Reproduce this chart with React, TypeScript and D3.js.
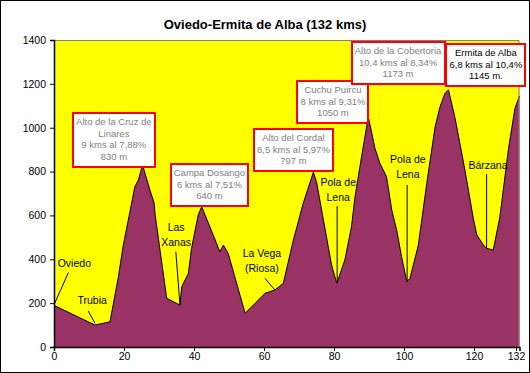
import React, { useEffect, useRef } from "react";
import * as d3 from "d3";

// profile: distance (km) and altitude (m)
const kms = [
  0, 11.7, 16, 18.4, 19.8, 21.7, 23.1, 24.1, 25.3, 27.4, 28.6, 28.9, 32.2, 36, 36.5, 38.4, 39.3,
  41.2, 42.2, 45.5, 47.4, 48.4, 49.8, 54.6, 58.9, 60.3, 63.1, 65.5, 68.4, 71.2, 74.1, 75,
  79.3, 80.8, 83.1, 85, 86, 87.4, 89.8, 91.7, 93.1, 95, 96.5, 97.9, 99.3, 100.8, 101.7,
  104.1, 106.5, 108.9, 110.3, 111.7, 112.7, 114.6, 117.4, 119.8, 120.8, 122.7, 123.6,
  125.5, 127.4, 129.8, 131.7, 133,
];
const elevations = [
  190, 100, 115, 320, 465, 617, 731, 761, 830, 716, 657, 602, 222, 191, 275, 336, 450,
  602, 640, 510, 434, 465, 425, 154, 222, 245, 260, 290, 488, 655, 797, 754,
  374, 290, 397, 549, 685, 822, 1050, 906, 838, 777, 625, 534, 412, 298, 313,
  465, 746, 1005, 1096, 1157, 1173, 1043, 807, 587, 511, 465, 450,
  442, 594, 898, 1088, 1145,
];

const xTicks = [0, 20, 40, 60, 80, 100, 120, 132];
const yTicks = [0, 200, 400, 600, 800, 1000, 1200, 1400];

const title = "Oviedo-Ermita de Alba (132 kms)";

// towns: text anchor (km, m) and leader line (km, m) -> (km, m)
const towns = [
  { lines: ["Oviedo"], km: 1.06, elev: 365, anchor: "start", line: [[0.2, 199], [4.1, 339]] },
  { lines: ["Trubia"], km: 6.7, elev: 196, anchor: "start", line: [[9.8, 164], [11.7, 108]] },
  { lines: ["Las", "Xanas"], km: 34.9, elev: 529, anchor: "middle", line: [[34.8, 435], [36, 191]] },
  { lines: ["La Vega", "(Riosa)"], km: 59.4, elev: 410, anchor: "middle", line: [[60.3, 313], [63.1, 260]] },
  { lines: ["Pola de", "Lena"], km: 81.2, elev: 736, anchor: "middle", line: [[80.9, 643], [80.9, 293]] },
  { lines: ["Pola de", "Lena"], km: 101.1, elev: 839, anchor: "middle", line: [[100.9, 739], [100.9, 298]] },
  { lines: ["Bárzana"], km: 124, elev: 812, anchor: "middle", line: [[123.6, 789], [123.6, 450]] },
];

// climbs: box centred on km, top edge at elev
const climbs = [
  { lines: ["Alto de la Cruz de", "Linares", "9 kms al 7,88%", "830 m"], km: 17.1, elev: 1065, color: "#808080" },
  { lines: ["Campa Dosango", "6 kms al 7,51%", "640 m"], km: 44.4, elev: 833, color: "#808080" },
  { lines: ["Alto del Cordal", "8,5 kms al 5,97%", "797 m"], km: 68.4, elev: 993, color: "#808080" },
  { lines: ["Cuchu Puircu", "8 kms al 9,31%", "1050 m"], km: 79.7, elev: 1213, color: "#808080" },
  { lines: ["Alto de la Cobertoria", "10,4 kms al 8,34%", "1173 m"], km: 98.3, elev: 1389, color: "#808080" },
  { lines: ["Ermita de Alba", "6,8 kms al 10,4%", "1145 m."], km: 123.4, elev: 1380, color: "#000000" },
];

const FONT = "'Liberation Sans', Arial, sans-serif";

const App = () => {
  const svgRef = useRef<SVGSVGElement>(null);

  useEffect(() => {
    const width = 530;
    const height = 373;
    const svg = d3.select(svgRef.current);
    svg.selectAll("*").remove();

    const x = d3.scaleLinear().domain([0, 133]).range([54, 519.5]);
    const y = d3.scaleLinear().domain([0, 1400]).range([347, 40]);

    // outer frame
    svg.append("rect")
      .attr("x", 0.5).attr("y", 0.5)
      .attr("width", width - 1).attr("height", height - 1)
      .attr("fill", "#fff").attr("stroke", "#000");

    // title
    svg.append("text")
      .attr("x", 265).attr("y", 28.5)
      .attr("text-anchor", "middle")
      .style("font-family", FONT).style("font-size", "13px").style("font-weight", "bold")
      .text(title);

    // plot area
    svg.append("rect")
      .attr("x", x(0)).attr("y", y(1400))
      .attr("width", x(133) - x(0)).attr("height", y(0) - y(1400))
      .attr("fill", "#ffff00");

    const pts = kms.map((k, i) => [k, elevations[i]] as [number, number]);

    svg.append("path")
      .datum(pts)
      .attr("fill", "#993366")
      .attr("d", d3.area<[number, number]>().x((d) => x(d[0])).y0(y(0)).y1((d) => y(d[1])));

    svg.append("path")
      .datum(pts)
      .attr("fill", "none").attr("stroke", "#000").attr("stroke-width", 1)
      .attr("d", d3.line<[number, number]>().x((d) => x(d[0])).y((d) => y(d[1])));

    // grey top / right border of plot
    svg.append("path")
      .attr("d", `M${x(0)},${y(1400) + 0.5}H${x(133) - 0.5}V${y(0)}`)
      .attr("fill", "none").attr("stroke", "#808080");

    // axes
    const yAxis = svg.append("g")
      .attr("transform", `translate(${x(0)},0)`)
      .call(d3.axisLeft(y).tickValues(yTicks).tickSize(4).tickPadding(4).tickFormat(d3.format("d")));
    const xAxis = svg.append("g")
      .attr("transform", `translate(0,${y(0)})`)
      .call(d3.axisBottom(x).tickValues(xTicks).tickSize(4).tickPadding(2).tickFormat(d3.format("d")));
    [yAxis, xAxis].forEach((g) => {
      g.select(".domain").attr("stroke", "#000").attr("stroke-width", 1.5);
      g.selectAll(".tick line").attr("stroke", "#000");
      g.selectAll("text").style("font-family", FONT).style("font-size", "10.5px").attr("fill", "#000");
    });

    // town labels with leader lines
    towns.forEach((t) => {
      svg.append("line")
        .attr("x1", x(t.line[0][0])).attr("y1", y(t.line[0][1]))
        .attr("x2", x(t.line[1][0])).attr("y2", y(t.line[1][1]))
        .attr("stroke", "#000");
      const txt = svg.append("text")
        .attr("text-anchor", t.anchor)
        .style("font-family", FONT).style("font-size", "10.5px");
      t.lines.forEach((l, i) => {
        txt.append("tspan").attr("x", x(t.km)).attr("y", y(t.elev) + i * 15).text(l);
      });
    });

    // climb boxes
    climbs.forEach((c) => {
      const g = svg.append("g");
      const rect = g.append("rect");
      const top = Math.round(y(c.elev));
      const txt = g.append("text")
        .attr("text-anchor", "middle")
        .attr("fill", c.color)
        .style("font-family", FONT).style("font-size", "9.5px");
      c.lines.forEach((l, i) => {
        txt.append("tspan").attr("x", x(c.km)).attr("y", top + 12 + i * 11.7).text(l);
      });
      let w = 0;
      txt.selectAll<SVGTSpanElement, unknown>("tspan").each(function () {
        w = Math.max(w, this.getComputedTextLength());
      });
      const bw = Math.round(w + 6);
      const bh = Math.round(12 + (c.lines.length - 1) * 11.7 + 6.5);
      rect
        .attr("x", Math.round(x(c.km) - bw / 2)).attr("y", top)
        .attr("width", bw).attr("height", bh)
        .attr("fill", "#fff").attr("stroke", "#ff0000").attr("stroke-width", 2);
    });
  }, []);

  return (
    <svg
      ref={svgRef}
      width={530}
      height={373}
      style={{ position: "absolute", left: 0, top: 0, display: "block" }}
    />
  );
};

export default App;
